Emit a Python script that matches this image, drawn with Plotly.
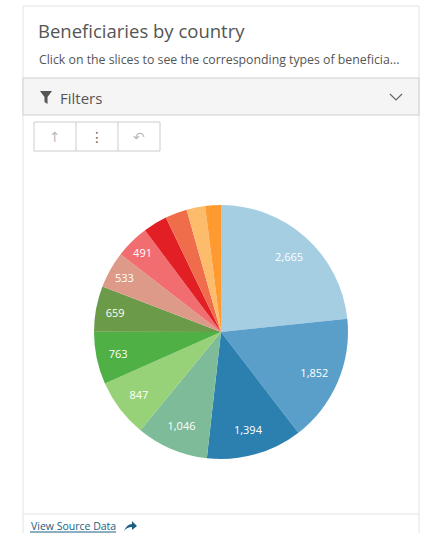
import plotly.graph_objects as go

W, H = 428, 533

countries = ["Country 1", "Country 2", "Country 3", "Country 4", "Country 5", "Country 6",
             "Country 7", "Country 8", "Country 9", "Country 10", "Country 11", "Country 12", "Country 13"]
beneficiaries = [2665, 1852, 1394, 1046, 847, 763, 659, 533, 491, 350, 318, 270, 228]
slice_colors = ["#a6cee3", "#5a9fca", "#2c80b0", "#7ebb98", "#98d278", "#4fb045", "#6b9a48",
                "#dd9a88", "#f16d6f", "#e31f26", "#ef6d4a", "#fdbb6c", "#fe9a30"]
label_threshold = 400

title_text = "Beneficiaries by country"
subtitle_text = "Click on the slices to see the corresponding types of beneficia..."

def px(x):
    return x / W

def py(y):
    return 1 - y / H

labels_text = [f"{v:,}" if v >= label_threshold else "" for v in beneficiaries]
pie_domain = dict(x=[px(94), px(348)], y=[py(459), py(205)])

fig = go.Figure()
# coloured slices
fig.add_trace(go.Pie(
    labels=countries,
    values=beneficiaries,
    textinfo="none",
    marker=dict(colors=slice_colors, line=dict(width=0)),
    sort=False,
    direction="clockwise",
    rotation=0,
    hoverinfo="none",
    domain=pie_domain,
    showlegend=False,
))
# transparent ring carrying the value labels near the rim
fig.add_trace(go.Pie(
    labels=countries,
    values=beneficiaries,
    text=labels_text,
    textinfo="text",
    textposition="inside",
    insidetextorientation="horizontal",
    textfont=dict(family="Open Sans", size=11, color="white"),
    marker=dict(colors=["rgba(0,0,0,0)"] * len(beneficiaries), line=dict(width=0)),
    hole=0.6,
    sort=False,
    direction="clockwise",
    rotation=0,
    hoverinfo="none",
    domain=pie_domain,
    showlegend=False,
))

shapes = []
shapes.append(dict(type="rect", xref="paper", yref="paper", x0=px(23), x1=px(419), y0=py(545), y1=py(6),
                   line=dict(color="#e3e3e3", width=1), fillcolor="rgba(0,0,0,0)", layer="below"))
shapes.append(dict(type="rect", xref="paper", yref="paper", x0=px(23), x1=px(419), y0=py(115), y1=py(78),
                   line=dict(color="#cfcfcf", width=1), fillcolor="#f5f5f5", layer="below"))
fx, fy = 40, 91
shapes.append(dict(type="path", xref="paper", yref="paper",
                   path=f"M {px(fx)} {py(fy)} L {px(fx+12)} {py(fy)} L {px(fx+7.5)} {py(fy+6)} L {px(fx+7.5)} {py(fy+13)} L {px(fx+4.5)} {py(fy+11)} L {px(fx+4.5)} {py(fy+6)} Z",
                   fillcolor="#555555", line=dict(width=0)))
shapes.append(dict(type="path", xref="paper", yref="paper",
                   path=f"M {px(390)} {py(94)} L {px(396)} {py(100)} L {px(402)} {py(94)}",
                   line=dict(color="#666666", width=1.2)))
shapes.append(dict(type="rect", xref="paper", yref="paper", x0=px(34), x1=px(160), y0=py(151), y1=py(122),
                   line=dict(color="#cccccc", width=1), fillcolor="white", layer="below"))
for xd in (76, 118):
    shapes.append(dict(type="line", xref="paper", yref="paper", x0=px(xd), x1=px(xd), y0=py(151), y1=py(122),
                       line=dict(color="#cccccc", width=1)))
shapes.append(dict(type="line", xref="paper", yref="paper", x0=px(23), x1=px(419), y0=py(514), y1=py(514),
                   line=dict(color="#e3e3e3", width=1)))
shapes.append(dict(type="line", xref="paper", yref="paper", x0=px(30), x1=px(116), y0=py(532), y1=py(532),
                   line=dict(color="#1b5e82", width=1)))
ax, ay = 124, 527
shapes.append(dict(type="path", xref="paper", yref="paper",
                   path=f"M {px(ax)} {py(ay+4)} Q {px(ax+3)} {py(ay-3)} {px(ax+8)} {py(ay-3)} L {px(ax+8)} {py(ay-6)} L {px(ax+13)} {py(ay-1)} L {px(ax+8)} {py(ay+3)} L {px(ax+8)} {py(ay)} Q {px(ax+3)} {py(ay)} {px(ax)} {py(ay+4)} Z",
                   fillcolor="#1b5e82", line=dict(width=0)))

annotations = [
    dict(text=title_text, x=px(36), y=py(30), xref="paper", yref="paper", xanchor="left", yanchor="middle",
         showarrow=False, font=dict(family="Open Sans", size=18.5, color="#555555")),
    dict(text=subtitle_text, x=px(36.5), y=py(59), xref="paper", yref="paper", xanchor="left", yanchor="middle",
         showarrow=False, font=dict(family="Open Sans", size=12.3, color="#555555")),
    dict(text="Filters", x=px(58), y=py(98), xref="paper", yref="paper", xanchor="left", yanchor="middle",
         showarrow=False, font=dict(family="Open Sans", size=15, color="#555555")),
    dict(text="↑", x=px(55), y=py(136.5), xref="paper", yref="paper", xanchor="center", yanchor="middle",
         showarrow=False, font=dict(family="DejaVu Sans", size=14, color="#bbbbbb")),
    dict(text="⋮", x=px(97), y=py(136.5), xref="paper", yref="paper", xanchor="center", yanchor="middle",
         showarrow=False, font=dict(family="DejaVu Sans", size=14, color="#666666")),
    dict(text="↶", x=px(139), y=py(136.5), xref="paper", yref="paper", xanchor="center", yanchor="middle",
         showarrow=False, font=dict(family="DejaVu Sans", size=14, color="#bbbbbb")),
    dict(text="View Source Data", x=px(29), y=py(526), xref="paper", yref="paper", xanchor="left", yanchor="middle",
         showarrow=False, font=dict(family="Open Sans", size=10.5, color="#1b5e82")),
]

fig.update_layout(
    width=W, height=H,
    margin=dict(l=0, r=0, t=0, b=0),
    paper_bgcolor="white",
    plot_bgcolor="white",
    shapes=shapes,
    annotations=annotations,
    font=dict(family="Open Sans"),
)

fig.write_html("out.html", config={"displayModeBar": False},
               post_script="document.body.style.margin='0';document.body.style.overflow='hidden';")
